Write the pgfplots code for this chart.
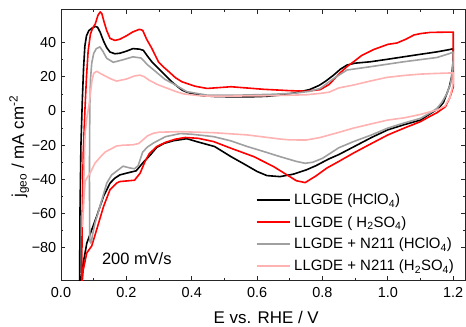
\documentclass[border=0pt]{standalone}
\usepackage{pgfplots}
\pgfplotsset{compat=1.18}
\usepackage{fontspec}
\setmainfont{Liberation Sans}
\definecolor{lgray}{RGB}{160,160,160}
\definecolor{lpink}{RGB}{255,178,178}
\definecolor{lred}{RGB}{255,0,0}

\pgfplotstableread{
E j
0.057 -104
0.058 -60
0.061 -20
0.065 5
0.069 25
0.073 38
0.078 44
0.085 47
0.095 48.5
0.105 49.5
0.112 49
0.12 46
0.13 41
0.14 37
0.15 34.5
0.165 33.5
0.18 33.8
0.2 35
0.22 36.5
0.24 36.2
0.252 35.5
0.265 32
0.278 28.8
0.295 25.5
0.308 23
0.325 19.8
0.339 17.1
0.355 14.5
0.37 12.3
0.385 11
0.4 10.2
0.43 9
0.47 8.5
0.52 8.3
0.58 8.3
0.63 8.6
0.68 9.5
0.72 10.8
0.76 12.5
0.79 15
0.81 17.5
0.834 21
0.855 24.5
0.875 26.9
0.9 28
0.946 28.8
1.0 30.3
1.048 31.7
1.1 33.2
1.15 34.6
1.19 36
1.2 36.5
1.199 28
1.195 20
1.188 14
1.178 9
1.17 5
1.155 1.5
1.13 -1.5
1.1 -5.3
1.05 -8
1.0 -11
0.95 -15.5
0.895 -21
0.85 -25.5
0.82 -28
0.78 -32
0.75 -34.5
0.71 -37
0.67 -38.4
0.63 -37.8
0.6 -35.4
0.56 -31
0.52 -26.7
0.47 -20.8
0.415 -17.9
0.385 -16.2
0.344 -17.4
0.315 -19
0.293 -21.3
0.272 -26
0.252 -30
0.23 -35
0.2 -36.4
0.18 -37.4
0.165 -39.3
0.15 -42.2
0.13 -50
0.109 -61.7
0.094 -69.5
0.079 -77.3
0.068 -89
0.062 -98
0.06 -104
}\blackdata

\pgfplotstableread{
E j
0.063 -104
0.065 -60
0.068 -25
0.073 0
0.078 20
0.083 35
0.09 45
0.097 48.5
0.105 51
0.113 56
0.12 58
0.125 57
0.132 52
0.14 47
0.15 42.5
0.165 41.3
0.18 42
0.2 44
0.22 46.3
0.24 47.8
0.25 47.2
0.262 42
0.278 36.6
0.298 28.8
0.315 25.5
0.33 23
0.35 19.5
0.37 17.1
0.41 14.5
0.447 13.2
0.52 14.2
0.58 13.3
0.62 12.7
0.7 11.9
0.75 11.6
0.793 12.5
0.82 15.5
0.855 22.5
0.875 26
0.895 28.8
0.92 32.5
0.957 36
1.0 39
1.028 39.8
1.055 42
1.08 44.5
1.1 45.3
1.13 46
1.2 46.2
1.2 14
1.19 8
1.176 2.5
1.15 -1
1.13 -3
1.1 -6.2
1.05 -10
1.0 -14
0.95 -19
0.895 -24.6
0.85 -29.5
0.814 -33.3
0.78 -38
0.747 -41.9
0.72 -40.8
0.7 -38.4
0.65 -32.5
0.59 -26.7
0.52 -21.8
0.467 -17.9
0.42 -16
0.38 -15.5
0.35 -16.5
0.32 -18.3
0.293 -20.8
0.27 -25
0.257 -29.6
0.242 -36.4
0.225 -40.5
0.18 -41.3
0.17 -42.2
0.15 -46
0.13 -56
0.109 -69.5
0.094 -79
0.079 -83
0.068 -93
0.063 -104
}\reddata

\pgfplotstableread{
E j
0.092 -77.5
0.088 -76
0.087 -40
0.088 0
0.09 18
0.094 28
0.1 33.7
0.108 36.5
0.119 37.5
0.128 35
0.14 30.8
0.16 28.5
0.19 30
0.22 31.7
0.245 31
0.265 27
0.29 23
0.318 18.5
0.343 16
0.385 11.3
0.447 9.3
0.55 9.3
0.65 9.8
0.72 10.5
0.76 11.5
0.793 13.2
0.834 19
0.875 24
0.946 25.9
1.048 28.8
1.15 31.3
1.19 33.7
1.2 34.5
1.199 25
1.192 16
1.18 10
1.165 5
1.15 1.5
1.13 -1
1.1 -4.3
1.05 -7
1.0 -10
0.95 -14
0.895 -17.9
0.85 -21.5
0.8 -27.7
0.77 -30
0.747 -30.6
0.72 -29.5
0.67 -26.7
0.62 -23.7
0.57 -20.8
0.52 -17.5
0.467 -15
0.4 -13.6
0.365 -13.2
0.32 -15
0.285 -18.5
0.265 -21
0.25 -24
0.236 -32
0.225 -33.8
0.21 -33.3
0.19 -32.3
0.175 -34.5
0.155 -37.4
0.14 -42.2
0.119 -56
0.104 -65.6
0.097 -72
0.092 -77.5
}\graydata

\pgfplotstableread{
E j
0.066 -68
0.069 -50
0.071 -30
0.074 -12
0.08 -3
0.086 4
0.091 12
0.095 18
0.1 22
0.109 23.3
0.12 22
0.135 20.5
0.15 19
0.17 17.5
0.2 18.7
0.225 20.5
0.242 21
0.255 20
0.27 18
0.295 15.5
0.325 13.3
0.35 11.5
0.375 10
0.42 9
0.466 8.6
0.55 8.8
0.65 9
0.75 9.5
0.793 10.3
0.82 11
0.85 13.5
0.895 15.2
0.95 17.7
0.998 19.7
1.05 20.8
1.1 21.6
1.15 22
1.2 22.3
1.199 15
1.19 8
1.175 3
1.15 0.5
1.13 -0.4
1.1 -2
1.05 -4
1.0 -5.3
0.95 -7.5
0.895 -10
0.85 -12.5
0.793 -15.5
0.75 -17
0.7 -16.9
0.67 -16.4
0.57 -14
0.467 -12.7
0.365 -12.1
0.3 -12.4
0.283 -13
0.265 -14.5
0.25 -17
0.238 -19
0.22 -19.8
0.19 -20
0.17 -20.5
0.15 -22.5
0.135 -24
0.12 -27
0.104 -30.5
0.09 -36
0.08 -39
0.074 -41
0.07 -52
0.066 -68
}\pinkdata

\begin{document}
\begin{tikzpicture}
\begin{axis}[
  name=ax,
  scale only axis,
  width=404bp, height=270.5bp,
  xmin=0, xmax=1.236,
  ymin=-98.9, ymax=59.4,
  axis line style={line width=0.9bp, black!85},
  tick align=inside,
  tick style={line width=0.8bp, black!85},
  major tick length=4.5bp,
  minor tick length=2.5bp,
  xtick={0,0.2,0.4,0.6,0.8,1.0,1.2},
  xticklabels={0.0,0.2,0.4,0.6,0.8,1.0,1.2},
  ytick={-80,-60,-40,-20,0,20,40},
  yticklabels={−80,−60,−40,−20,0,20,40},
  minor x tick num=1,
  minor y tick num=1,
  ticklabel style={font=\fontsize{14.5}{17}\selectfont},
  xticklabel style={yshift=-3.5bp},
  yticklabel style={xshift=-1.2bp},
  xlabel={E vs. RHE / V},
  ylabel={j\textsubscript{geo} / mA cm\textsuperscript{-2}},
  label style={font=\fontsize{17}{20}\selectfont},
  xlabel style={at={(axis description cs:0.508,-0.16)}, anchor=base},
  ylabel style={at={(axis description cs:-0.0916,0.4935)}, anchor=base, rotate=0},
]
\addplot[black, line width=1.6bp, line join=round] table[x=E,y=j] {\blackdata};
\addplot[lred, line width=1.6bp, line join=round] table[x=E,y=j] {\reddata};
\addplot[lgray, line width=1.6bp, line join=round] table[x=E,y=j] {\graydata};
\addplot[lpink, line width=1.6bp, line join=round] table[x=E,y=j] {\pinkdata};
\node[anchor=base west, inner sep=0pt, font=\fontsize{16.5}{19}\selectfont] at (axis cs:0.125,-90) {200 mV/s};
% legend
\draw[black, line width=1.6bp] (axis description cs:0.4844,0.2957) -- ++(33bp,0bp);
\draw[lred, line width=1.6bp] (axis description cs:0.4844,0.2136) -- ++(33bp,0bp);
\draw[lgray, line width=1.6bp] (axis description cs:0.4844,0.1335) -- ++(33bp,0bp);
\draw[lpink, line width=1.6bp] (axis description cs:0.4844,0.0518) -- ++(33bp,0bp);
\begin{scope}[every node/.style={anchor=base west, inner sep=0pt, font=\fontsize{15}{18}\selectfont}]
\node at (axis description cs:0.5767,0.2773) {LLGDE (HClO\textsubscript{4})};
\node at (axis description cs:0.5767,0.1952) {LLGDE ( H\textsubscript{2}SO\textsubscript{4})};
\node at (axis description cs:0.5767,0.1151) {LLGDE + N211 (HClO\textsubscript{4})};
\node at (axis description cs:0.5767,0.0334) {LLGDE + N211 (H\textsubscript{2}SO\textsubscript{4})};
\end{scope}
\end{axis}
\pgfresetboundingbox
\path[use as bounding box] ([xshift=-61bp,yshift=-47bp]ax.south west) rectangle ([xshift=1bp,yshift=9.5bp]ax.north east);
\end{tikzpicture}
\end{document}
